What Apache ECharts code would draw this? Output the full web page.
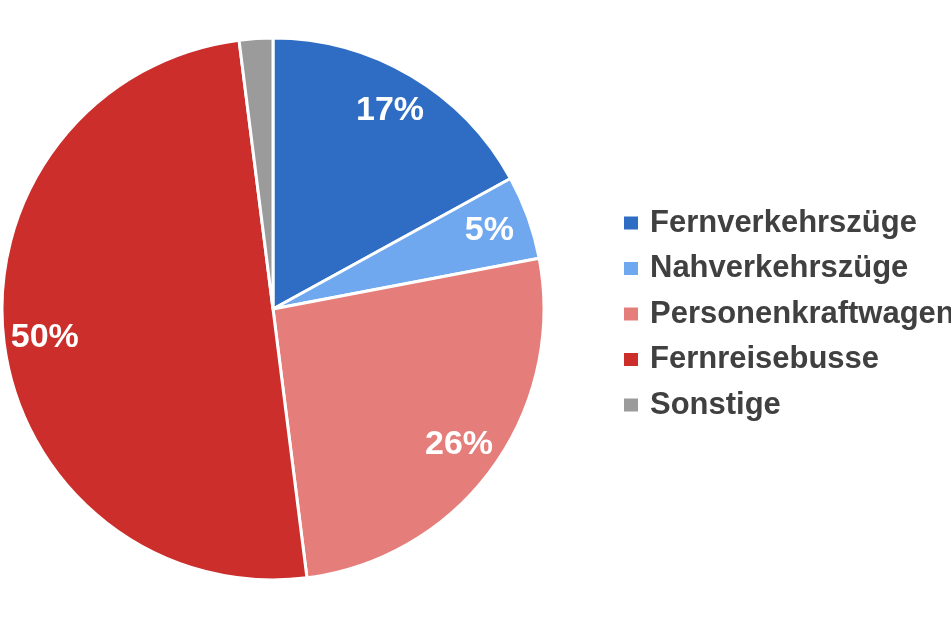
<!DOCTYPE html>
<html><head><meta charset="utf-8">
<script src="https://cdn.jsdelivr.net/npm/echarts@6/dist/echarts.min.js"></script>
<style>html,body{margin:0;padding:0;background:#fff}#c{width:951px;height:634px}</style>
</head><body><div id="c"></div>
<script>
const categories = ['Fernverkehrszüge', 'Nahverkehrszüge', 'Personenkraftwagen', 'Fernreisebusse', 'Sonstige'];
const shares = [17, 5, 26, 50, 2];
const colors = ['#2F6DC5', '#6FA8EF', '#E57E7A', '#CB2E2B', '#9B9B9B'];
const showLabel = [true, true, true, true, false];

// pick a narrow font if present; scale size to match reference widths
const cv = document.createElement('canvas').getContext('2d');
function w(font, txt) { cv.font = font; return cv.measureText(txt).width; }
let fam = "'Liberation Sans Narrow'";
const narrowOk = w("bold 100px 'Liberation Sans Narrow', monospace", 'Fernverkehrszüge') !== w('bold 100px monospace', 'Fernverkehrszüge');
if (!narrowOk) fam = "'Liberation Sans'";
const legendSize = Math.min(38, 100 * 267 / w('bold 100px ' + fam, 'Fernverkehrszüge'));
const labelSize = Math.min(43, 100 * 68 / w('bold 100px ' + fam, '17%'));

const chart = echarts.init(document.getElementById('c'));
const base = categories.map((n, i) => ({ name: n, value: shares[i], itemStyle: { color: colors[i] } }));
chart.setOption({
  animation: false,
  legend: {
    orient: 'vertical', left: 622, top: 203, padding: 0,
    itemWidth: 16, itemHeight: 15, itemGap: 5.5,
    icon: 'rect',
    data: categories,
    textStyle: { fontFamily: fam, fontWeight: 'bold', fontSize: legendSize, color: '#404040', lineHeight: 40, padding: [0, 0, 0, 6] }
  },
  series: [
    {
      type: 'pie', center: [273, 309], radius: [0, 271], startAngle: 90, clockwise: true,
      silent: true,
      itemStyle: { borderColor: '#fff', borderWidth: 3 },
      label: { show: false }, labelLine: { show: false },
      data: base
    },
    {
      type: 'pie', center: [273, 309], radius: [182, 272], startAngle: 90, clockwise: true,
      silent: true, legendHoverLink: false,
      itemStyle: { color: 'rgba(0,0,0,0)', borderWidth: 0 },
      label: {
        show: true, position: 'inside', formatter: '{c}%',
        color: '#fff', fontFamily: fam, fontWeight: 'bold', fontSize: labelSize
      },
      labelLine: { show: false },
      data: categories.map((n, i) => ({ name: n, value: shares[i], itemStyle: { color: 'rgba(0,0,0,0)' }, label: { show: showLabel[i] } }))
    }
  ]
});
</script>
</body></html>
